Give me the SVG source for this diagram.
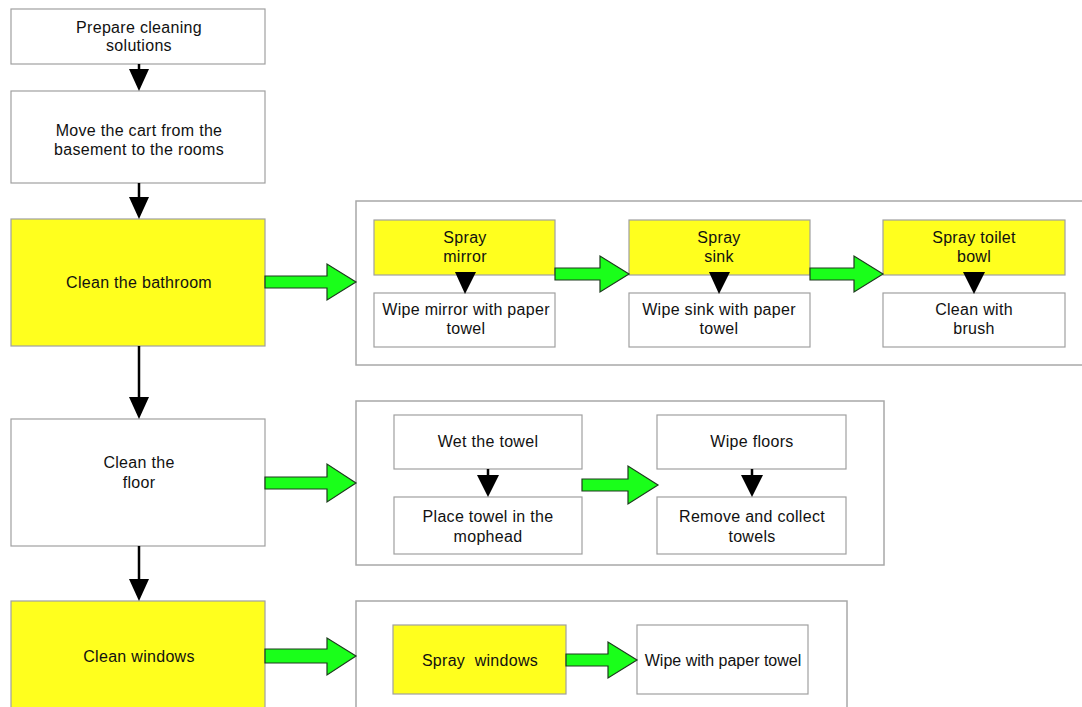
<svg xmlns="http://www.w3.org/2000/svg" width="1082" height="707" viewBox="0 0 1082 707">
<defs>
<style>
.box{fill:#ffffff;stroke:#a0a0a0;stroke-width:1.2}
.ybox{fill:#ffff1e;stroke:#a0a0a0;stroke-width:1.2}
.grp{fill:#ffffff;stroke:#a8a8a8;stroke-width:1.5}
.t{font-family:"Liberation Sans",Arial,sans-serif;font-size:16px;letter-spacing:0.3px;fill:#111111;text-anchor:middle}
.ga{fill:#1aff1a;stroke:#1e3a1e;stroke-width:1.2;stroke-linejoin:miter}
.bl{stroke:#000000;stroke-width:2.5;fill:none}
.bh{fill:#000000}
</style>
</defs>
<rect width="1082" height="707" fill="#ffffff"/>
<g id="group-bathroom"><rect class="grp" x="356" y="201" width="740" height="164"/></g>
<g id="group-floor"><rect class="grp" x="356" y="401" width="528" height="164"/></g>
<g id="group-windows"><rect class="grp" x="356" y="601" width="491" height="120"/></g>

<g id="n-prepare"><rect class="box" x="11" y="9" width="254" height="55"/><text class="t" x="139" y="32.5">Prepare cleaning</text><text class="t" x="139" y="50.5">solutions</text></g>
<g id="n-move"><rect class="box" x="11" y="91" width="254" height="92"/><text class="t" x="139" y="135.5">Move the cart from the</text><text class="t" x="139" y="154.5">basement to the rooms</text></g>
<g id="n-bathroom"><rect class="ybox" x="11" y="219" width="254" height="127"/><text class="t" x="139" y="287.5">Clean the bathroom</text></g>
<g id="n-floor"><rect class="box" x="11" y="419" width="254" height="127"/><text class="t" x="139" y="467.5">Clean the</text><text class="t" x="139" y="487.5">floor</text></g>
<g id="n-windows"><rect class="ybox" x="11" y="601" width="254" height="120"/><text class="t" x="139" y="661.5">Clean windows</text></g>

<g id="n-spray-mirror"><rect class="ybox" x="374" y="220" width="181" height="55"/><text class="t" x="465" y="242.5">Spray</text><text class="t" x="465" y="261.5">mirror</text></g>
<g id="n-wipe-mirror"><rect class="box" x="374" y="293" width="181" height="54"/><text class="t" x="466" y="314.5">Wipe mirror with paper</text><text class="t" x="466" y="333.5">towel</text></g>
<g id="n-spray-sink"><rect class="ybox" x="629" y="220" width="181" height="55"/><text class="t" x="719" y="242.5">Spray</text><text class="t" x="719" y="261.5">sink</text></g>
<g id="n-wipe-sink"><rect class="box" x="629" y="293" width="181" height="54"/><text class="t" x="719" y="314.5">Wipe sink with paper</text><text class="t" x="719" y="333.5">towel</text></g>
<g id="n-spray-toilet"><rect class="ybox" x="883" y="220" width="182" height="55"/><text class="t" x="974" y="242.5">Spray toilet</text><text class="t" x="974" y="261.5">bowl</text></g>
<g id="n-brush"><rect class="box" x="883" y="293" width="182" height="54"/><text class="t" x="974" y="314.5">Clean with</text><text class="t" x="974" y="333.5">brush</text></g>

<g id="n-wet"><rect class="box" x="394" y="415" width="188" height="54"/><text class="t" x="488" y="446.5">Wet the towel</text></g>
<g id="n-place"><rect class="box" x="394" y="497" width="188" height="57"/><text class="t" x="488" y="521.5">Place towel in the</text><text class="t" x="488" y="541.5">mophead</text></g>
<g id="n-wipe-floors"><rect class="box" x="657" y="415" width="189" height="54"/><text class="t" x="752" y="446.5">Wipe floors</text></g>
<g id="n-remove"><rect class="box" x="657" y="497" width="189" height="57"/><text class="t" x="752" y="521.5">Remove and collect</text><text class="t" x="752" y="541.5">towels</text></g>

<g id="n-spray-windows"><rect class="ybox" x="393" y="625" width="173" height="69"/><text class="t" x="480" y="665.5" xml:space="preserve">Spray  windows</text></g>
<g id="n-wipe-windows"><rect class="box" x="637" y="625" width="171" height="69"/><text class="t" x="723" y="665.5" style="letter-spacing:0">Wipe with paper towel</text></g>

<g id="connectors">
<line class="bl" x1="139" y1="64" x2="139" y2="70"/><polygon class="bh" points="129,69 149,69 139,91"/>
<line class="bl" x1="139" y1="183" x2="139" y2="198"/><polygon class="bh" points="129,197 149,197 139,219"/>
<line class="bl" x1="139" y1="346" x2="139" y2="398"/><polygon class="bh" points="129,397 149,397 139,419"/>
<line class="bl" x1="139" y1="546" x2="139" y2="580"/><polygon class="bh" points="129,579 149,579 139,601"/>

<polygon class="bh" points="455,272 476,272 465,294"/>
<polygon class="bh" points="709,272 730,272 719,294"/>
<polygon class="bh" points="963,272 985,272 974,294"/>
<line class="bl" x1="488" y1="469" x2="488" y2="476"/><polygon class="bh" points="477,475 499,475 488,497"/>
<line class="bl" x1="752" y1="469" x2="752" y2="476"/><polygon class="bh" points="741,475 763,475 752,497"/>

<polygon class="ga" points="265,276 327,276 327,264 356,282 327,300 327,288 265,288"/>
<polygon class="ga" points="555,268 600,268 600,256 629,274 600,292 600,280 555,280"/>
<polygon class="ga" points="810,268 854,268 854,256 883,274 854,292 854,280 810,280"/>
<polygon class="ga" points="265,477 327,477 327,464 356,483 327,502 327,489 265,489"/>
<polygon class="ga" points="582,479 628,479 628,466 658,485 628,504 628,491 582,491"/>
<polygon class="ga" points="265,649 327,649 327,638 356,656 327,675 327,663 265,663"/>
<polygon class="ga" points="566,654 608,654 608,642 637,660 608,678 608,666 566,666"/>
</g>
</svg>
